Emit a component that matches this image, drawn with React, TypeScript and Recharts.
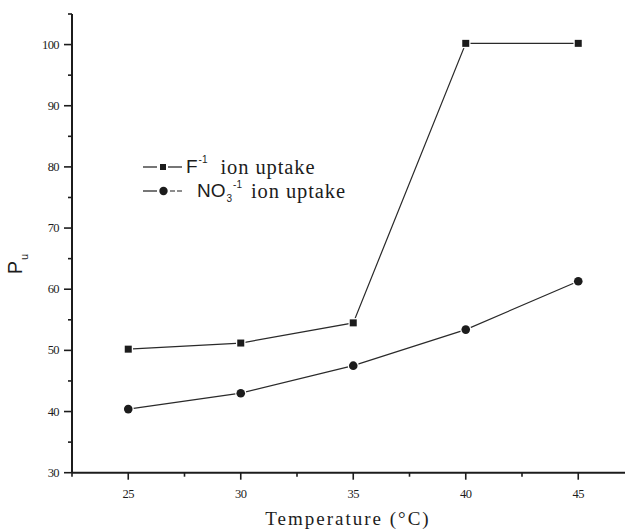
import React from "react";
import { LineChart, Line, XAxis, YAxis, Label } from "recharts";

const temperatures = [25, 30, 35, 40, 45];
const fluorideUptake = [50.2, 51.2, 54.5, 100.2, 100.2];
const nitrateUptake = [40.4, 43.0, 47.5, 53.4, 61.3];
const xTicks = [22.5, 25, 27.5, 30, 32.5, 35, 37.5, 40, 42.5, 45, 47.5];
const yTicks = [30, 35, 40, 45, 50, 55, 60, 65, 70, 75, 80, 85, 90, 95, 100, 105];

const data = temperatures.map((t, i) => ({
  temp: t,
  fluoride: fluorideUptake[i],
  nitrate: nitrateUptake[i],
}));

const INK = "#1c1c1c";
const SERIF = "'Liberation Serif', 'Times New Roman', serif";
const SANS = "'Liberation Sans', Arial, sans-serif";

function YTick(props: any) {
  const { x, y, payload } = props;
  const major = payload.value % 10 === 0;
  return (
    <g>
      <line x1={x} x2={x - (major ? 8 : 4)} y1={y} y2={y} stroke={INK} strokeWidth={1.6} />
      {major && (
        <text
          x={x - 13}
          y={y}
          dy={4}
          textAnchor="end"
          fill={INK}
          style={{ fontFamily: SERIF, fontSize: 12.5, letterSpacing: -0.6 }}
        >
          {payload.value}
        </text>
      )}
    </g>
  );
}

function XTick(props: any) {
  const { x, y, payload } = props;
  const major = payload.value % 5 === 0;
  return (
    <g>
      <line x1={x} x2={x} y1={y} y2={y + (major ? 7 : 4)} stroke={INK} strokeWidth={1.6} />
      {major && (
        <text
          x={x}
          y={y + 25}
          textAnchor="middle"
          fill={INK}
          style={{ fontFamily: SERIF, fontSize: 12.5, letterSpacing: -0.6 }}
        >
          {payload.value}
        </text>
      )}
    </g>
  );
}

function SquareDot(props: any) {
  const { cx, cy } = props;
  if (cx == null || cy == null) return null;
  return <rect x={cx - 3.5} y={cy - 3.5} width={7} height={7} fill={INK} stroke="#fff" strokeWidth={2.5} paintOrder="stroke" />;
}

function CircleDot(props: any) {
  const { cx, cy } = props;
  if (cx == null || cy == null) return null;
  return <circle cx={cx} cy={cy} r={4.3} fill={INK} stroke="#fff" strokeWidth={2.5} paintOrder="stroke" />;
}

function ChartLegend() {
  const row: React.CSSProperties = {
    display: "flex",
    alignItems: "center",
    height: 24,
    lineHeight: "20px",
    color: INK,
  };
  const serifText: React.CSSProperties = { fontFamily: SERIF, fontSize: 20.5, letterSpacing: 0.9 };
  const small: React.CSSProperties = { fontFamily: SANS, fontSize: 10, lineHeight: "10px", position: "relative" };
  return (
    <div style={{ position: "absolute", left: 143, top: 155 }}>
      <div style={row}>
        <svg width={40} height={12}>
          <line x1={0} x2={14} y1={6} y2={6} stroke={INK} strokeWidth={1.2} />
          <rect x={17} y={3} width={6} height={6} fill={INK} />
          <line x1={25} x2={39} y1={6} y2={6} stroke={INK} strokeWidth={1.2} />
        </svg>
        <span style={{ fontFamily: SANS, fontSize: 19, marginLeft: 3 }}>F</span>
        <span style={{ ...small, top: -7, marginLeft: 1 }}>-1</span>
        <span style={{ ...serifText, marginLeft: 13 }}>ion uptake</span>
      </div>
      <div style={row}>
        <svg width={42} height={12}>
          <line x1={0} x2={14} y1={6} y2={6} stroke={INK} strokeWidth={1.2} />
          <circle cx={20.5} cy={6} r={4.2} fill={INK} />
          <line x1={27} x2={41} y1={6} y2={6} stroke={INK} strokeWidth={1.2} strokeDasharray="5 2" />
        </svg>
        <span style={{ fontFamily: SANS, fontSize: 19, marginLeft: 12 }}>NO</span>
        <span style={{ ...small, top: 8, marginLeft: 1 }}>3</span>
        <span style={{ ...small, top: -6, marginLeft: 1 }}>-1</span>
        <span style={{ ...serifText, marginLeft: 9 }}>ion uptake</span>
      </div>
    </div>
  );
}

export default function App() {
  return (
    <div
      style={{
        position: "fixed",
        left: 0,
        top: 0,
        width: 625,
        height: 532,
        overflow: "hidden",
        background: "#fff",
      }}
    >
      <LineChart width={645} height={532} data={data} margin={{ top: 14, right: 10.5, bottom: 29.3, left: 12 }}>
        <XAxis
          dataKey="temp"
          type="number"
          domain={[22.5, 47.5]}
          ticks={xTicks}
          interval={0}
          height={30}
          tickSize={0}
          tickMargin={0}
          tickLine={false}
          tick={<XTick />}
          axisLine={{ stroke: INK, strokeWidth: 2 }}
        >
          <Label
            content={() => (
              <text
                x={348}
                y={525}
                textAnchor="middle"
                fill={INK}
                style={{ fontFamily: SERIF, fontSize: 19, letterSpacing: 2 }}
              >
                Temperature (°C)
              </text>
            )}
          />
        </XAxis>
        <YAxis
          type="number"
          domain={[30, 105]}
          ticks={yTicks}
          interval={0}
          width={60}
          tickSize={0}
          tickMargin={0}
          tickLine={false}
          tick={<YTick />}
          axisLine={{ stroke: INK, strokeWidth: 2 }}
        >
          <Label
            content={() => (
              <text
                x={22}
                y={264}
                transform="rotate(-90, 22, 264)"
                textAnchor="middle"
                fill={INK}
                style={{ fontFamily: SANS, fontSize: 20 }}
              >
                P
                <tspan fontSize={11} dy={6} dx={1}>
                  u
                </tspan>
              </text>
            )}
          />
        </YAxis>
        <Line
          dataKey="fluoride"
          stroke="#2a2a2a"
          strokeWidth={1.2}
          dot={<SquareDot />}
          activeDot={false}
          isAnimationActive={false}
        />
        <Line
          dataKey="nitrate"
          stroke="#2a2a2a"
          strokeWidth={1.2}
          dot={<CircleDot />}
          activeDot={false}
          isAnimationActive={false}
        />
      </LineChart>
      <ChartLegend />
    </div>
  );
}
